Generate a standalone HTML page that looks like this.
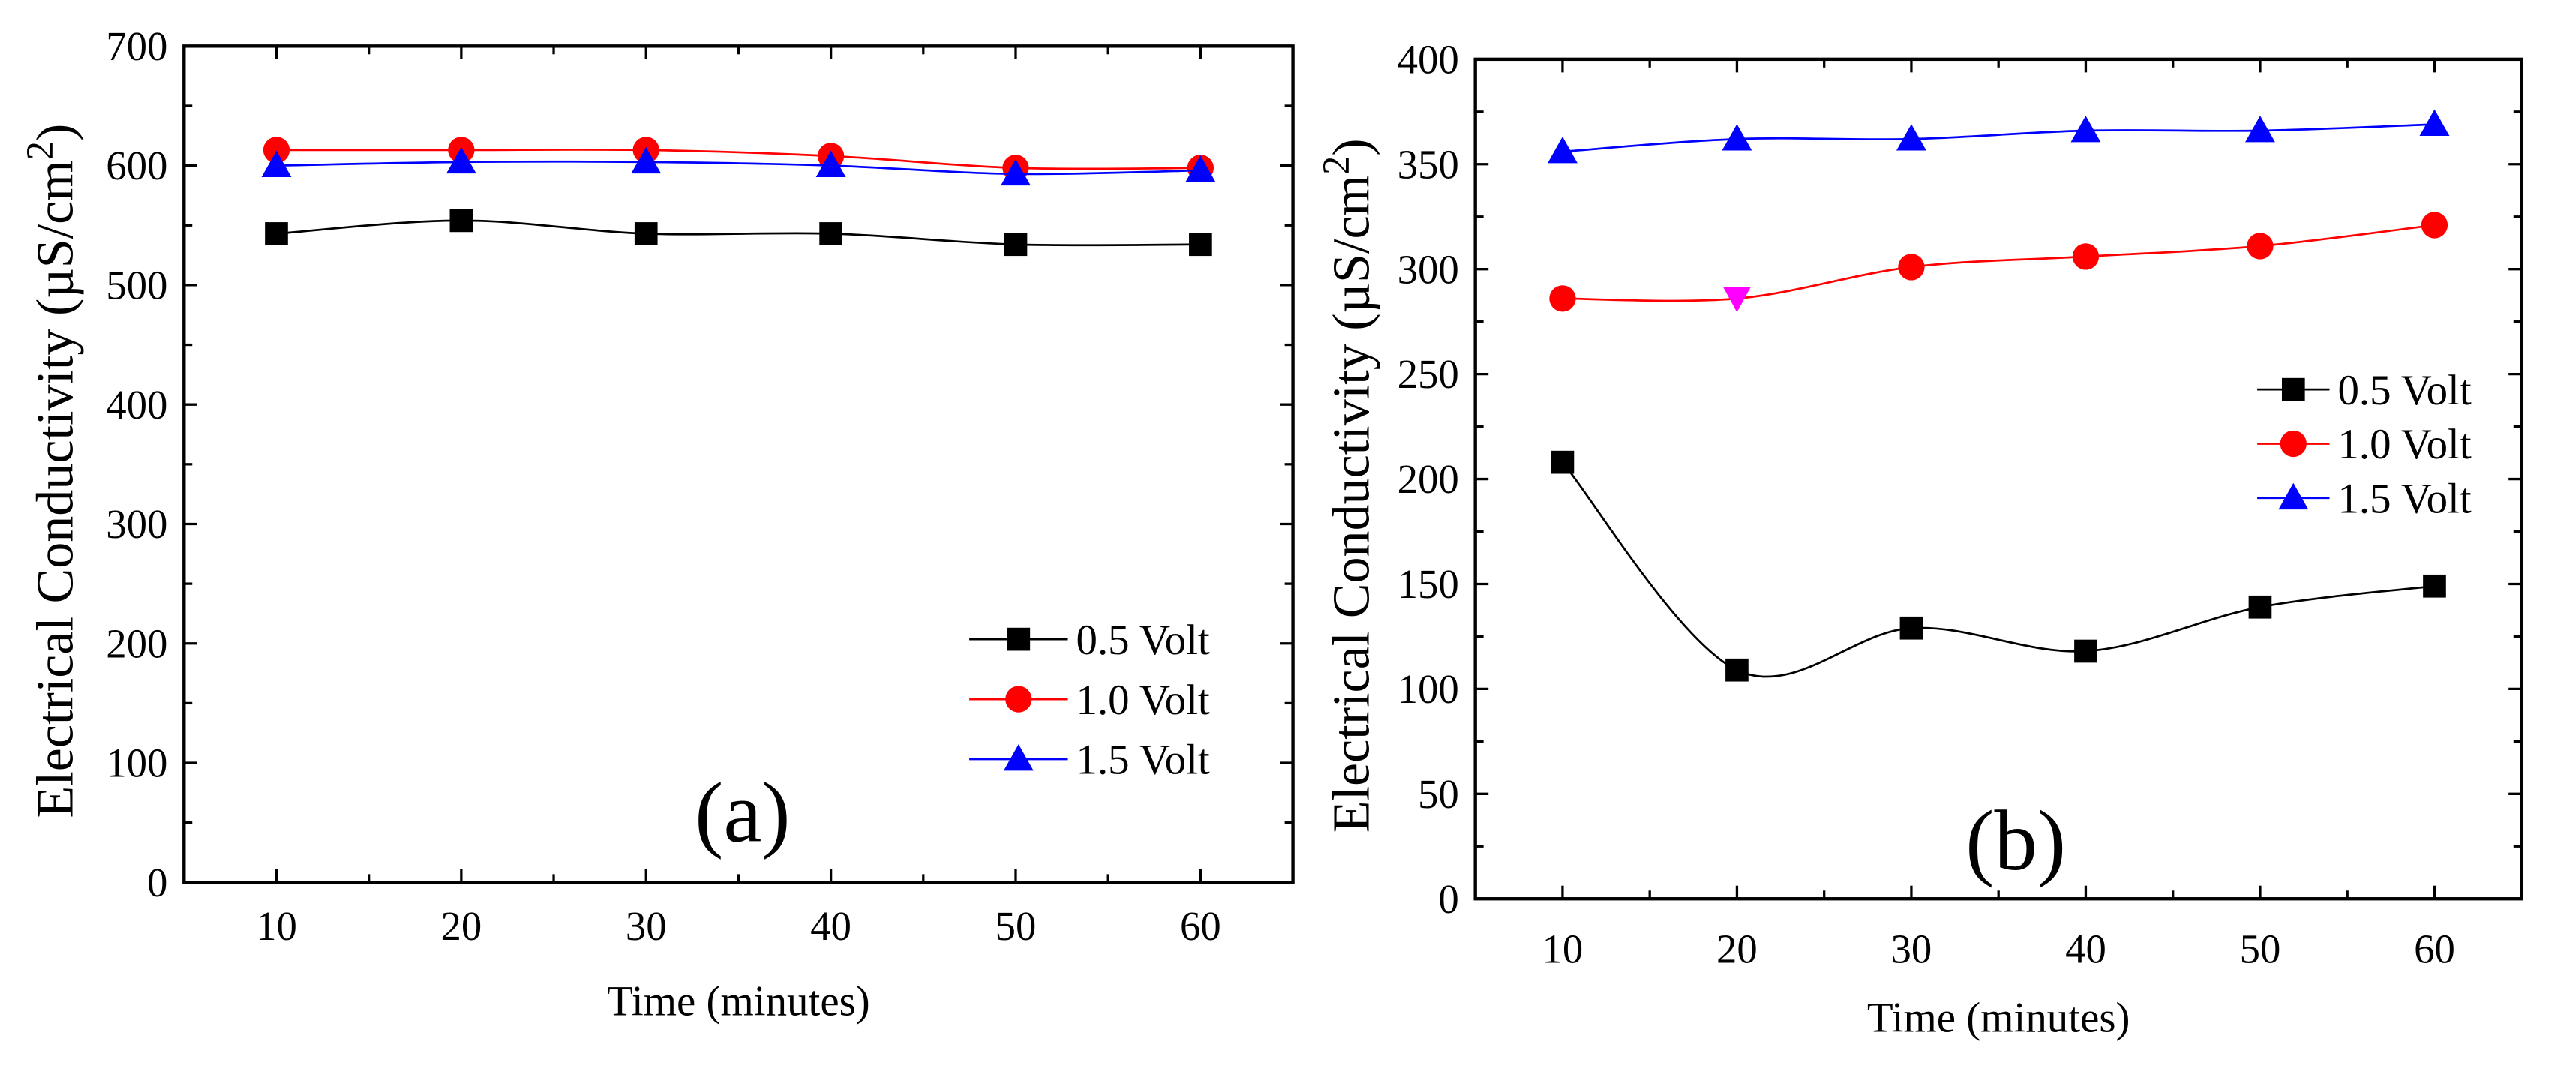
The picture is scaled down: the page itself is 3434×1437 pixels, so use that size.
<!DOCTYPE html>
<html><head><meta charset="utf-8"><style>
body{margin:0;background:#fff}
svg{display:block;font-family:"Liberation Serif",serif}
</style></head><body>
<svg id="chart" width="3434" height="1437" viewBox="0 0 3136 1312" preserveAspectRatio="none" xmlns="http://www.w3.org/2000/svg"></svg>
<script>
const timeCategories = [10, 20, 30, 40, 50, 60];
const seriesNames = ["0.5 Volt", "1.0 Volt", "1.5 Volt"];
const panelA_05 = [543, 554, 543, 543, 534, 534];
const panelA_10 = [613, 613, 613, 608, 598, 598];
const panelA_15 = [600, 603, 603, 600, 593, 596];
const panelB_05 = [208, 109, 129, 118, 139, 149];
const panelB_10 = [286, 286, 301, 306, 311, 321];
const panelB_15 = [356, 362, 362, 366, 366, 369];
const xTickLabels = [10, 20, 30, 40, 50, 60];
const yTicksA = [0, 100, 200, 300, 400, 500, 600, 700];
const yTicksB = [0, 50, 100, 150, 200, 250, 300, 350, 400];

const NS = "http://www.w3.org/2000/svg";
const svg = document.getElementById("chart");
function mk(tag, attrs, parent, text) {
  const e = document.createElementNS(NS, tag);
  for (const k in attrs) e.setAttribute(k, attrs[k]);
  if (text !== undefined) e.textContent = text;
  (parent || svg).appendChild(e);
  return e;
}
const colors = ["#000", "#f00", "#00f"];
function marker(g, type, x, y, color, s) {
  let m;
  if (type === 0) m = mk("rect", {x: x - s, y: y - s, width: 2 * s, height: 2 * s, fill: color}, g);
  else if (type === 1) m = mk("circle", {cx: x, cy: y, r: s * 1.15, fill: color}, g);
  else if (type === 2) m = mk("polygon", {points: `${x},${y - s * 1.3} ${x - s * 1.3},${y + s} ${x + s * 1.3},${y + s}`, fill: color}, g);
  else m = mk("polygon", {points: `${x},${y + s * 1.2} ${x - s * 1.2},${y - s} ${x + s * 1.2},${y - s}`, fill: color}, g);
  return m;
}
function spline(pts) {
  let d = `M${pts[0][0]},${pts[0][1]}`;
  for (let i = 0; i < pts.length - 1; i++) {
    const p0 = pts[Math.max(0, i - 1)], p1 = pts[i], p2 = pts[i + 1], p3 = pts[Math.min(pts.length - 1, i + 2)];
    const c1 = [p1[0] + (p2[0] - p0[0]) / 6, p1[1] + (p2[1] - p0[1]) / 6];
    const c2 = [p2[0] - (p3[0] - p1[0]) / 6, p2[1] - (p3[1] - p1[1]) / 6];
    d += ` C${c1[0]},${c1[1]} ${c2[0]},${c2[1]} ${p2[0]},${p2[1]}`;
  }
  return d;
}
function panel(cfg) {
  const g = mk("g", {});
  
  
  const {x0, x1, y0, y1, ymax, yTicks, series} = cfg;
  const X = v => x0 + (v - 5) / 60 * (x1 - x0);
  const Y = v => y1 - v / ymax * (y1 - y0);
  const frame = mk("rect", {x: x0, y: y0, width: x1 - x0, height: y1 - y0, fill: "none", stroke: "#000", "stroke-width": 4}, g);
  
  
  for (let v = 10; v <= 60; v += 5) {
    const major = v % 10 === 0;
    const L = major ? 16 : 10;
    mk("line", {x1: X(v), x2: X(v), y1: y1, y2: y1 - L, stroke: "#000", "stroke-width": 3}, g);
    mk("line", {x1: X(v), x2: X(v), y1: y0, y2: y0 + L, stroke: "#000", "stroke-width": 3}, g);
  }
  xTickLabels.forEach(v => {
    const t = mk("text", {x: X(v), y: y1 + cfg.xLabelDy, "font-size": 50, "text-anchor": "middle"}, g, String(v));
    
    
  });
  const step = yTicks[1] - yTicks[0];
  for (let v = 0; v <= ymax + 0.001; v += step / 2) {
    const major = Math.abs((v / step) - Math.round(v / step)) < 1e-6;
    const L = major ? 16 : 10;
    mk("line", {x1: x0, x2: x0 + L, y1: Y(v), y2: Y(v), stroke: "#000", "stroke-width": 3}, g);
    mk("line", {x1: x1, x2: x1 - L, y1: Y(v), y2: Y(v), stroke: "#000", "stroke-width": 3}, g);
  }
  yTicks.forEach(v => {
    const t = mk("text", {x: x0 - 20, y: Y(v) + 17, "font-size": 50, "text-anchor": "end"}, g, String(v));
    
    
  });
  const xt = mk("text", {x: (x0 + x1) / 2, y: cfg.xTitleY, "font-size": 52, "text-anchor": "middle"}, g, "Time (minutes)");
  
  
  const yt = mk("text", {transform: `translate(${cfg.yTitleX},${(y0 + y1) / 2 + 8}) rotate(-90)`, "font-size": 64, "text-anchor": "middle"}, g);
  
  
  yt.appendChild(document.createTextNode("Electrical Conductivity (µS/cm"));
  mk("tspan", {dy: -24, "font-size": 46}, yt, "2");
  mk("tspan", {dy: 24}, yt, ")");
  const lab = mk("text", {x: cfg.labelX, y: cfg.labelY, "font-size": 105, "text-anchor": "middle"}, g, cfg.label);
  
  
  series.forEach((vals, si) => {
    const sg = mk("g", {}, g);
    
    
    const pts = vals.map((v, i) => [X(timeCategories[i]), Y(v)]);
    mk("path", {d: spline(pts), fill: "none", stroke: colors[si], "stroke-width": 2.5}, sg);
    pts.forEach((p, i) => {
      const special = cfg.special && cfg.special[0] === si && cfg.special[1] === i;
      const m = marker(sg, special ? 3 : si, p[0], p[1], special ? "#f0f" : colors[si], 14);
      
      
    });
  });
  const lg = mk("g", {}, g);
  
  
  seriesNames.forEach((n, si) => {
    const y = cfg.legY + si * cfg.legDy;
    const e = mk("g", {}, lg);
    
    
    mk("line", {x1: cfg.legX, x2: cfg.legX + cfg.legW, y1: y, y2: y, stroke: colors[si], "stroke-width": 2.5}, e);
    marker(e, si, cfg.legX + cfg.legW / 2, y, colors[si], 14);
    mk("text", {x: cfg.legX + cfg.legW + 10, y: y + 18, "font-size": 52}, e, n);
  });
}
panel({name: "panel-a", x0: 224, x1: 1574, y0: 56, y1: 1074, ymax: 700, yTicks: yTicksA,
  series: [panelA_05, panelA_10, panelA_15], xLabelDy: 70, xTitleY: 1236, yTitleX: 88,
  label: "(a)", labelX: 904, labelY: 1024, legX: 1180, legW: 120, legY: 778, legDy: 73});
panel({name: "panel-b", x0: 1796, x1: 3070, y0: 72, y1: 1094, ymax: 400, yTicks: yTicksB,
  series: [panelB_05, panelB_10, panelB_15], xLabelDy: 78, xTitleY: 1256, yTitleX: 1666,
  label: "(b)", labelX: 2454, labelY: 1058, legX: 2748, legW: 88, legY: 474, legDy: 66, special: [1, 1]});
</script>
</body></html>
